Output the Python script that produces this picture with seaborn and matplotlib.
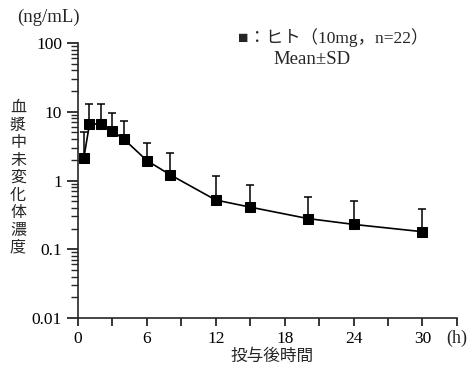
import numpy as np
import pandas as pd
import seaborn as sns
import matplotlib.pyplot as plt
from matplotlib.ticker import LogLocator, NullFormatter

# 投与後時間 (h) と 血漿中未変化体濃度 (ng/mL)
hours = [0.5, 1, 2, 3, 4, 6, 8, 12, 15, 20, 24, 30]
conc_mean = [2.1, 6.6, 6.7, 5.2, 4.0, 1.95, 1.22, 0.52, 0.41, 0.28, 0.23, 0.18]
conc_sd = [3.0, 6.2, 6.1, 4.4, 3.4, 1.6, 1.3, 0.64, 0.45, 0.30, 0.27, 0.20]
y_ticks = [0.01, 0.1, 1, 10, 100]
y_tick_labels = ['0.01', '0.1', '1', '10', '100']
x_ticks = [0, 6, 12, 18, 24, 30]

df = pd.DataFrame({'時間': hours, '濃度': conc_mean, 'SD': conc_sd})

sns.set_style('ticks')
plt.rcParams['font.family'] = ['Liberation Serif', 'Noto Sans CJK JP']
plt.rcParams['axes.linewidth'] = 1.2

fig = plt.figure(figsize=(4.71, 3.71), dpi=100)
ax = fig.add_axes([0.1656, 0.1429, 0.8044, 0.7411])

ax.errorbar(df['時間'], df['濃度'], yerr=[np.zeros(len(df)), df['SD']],
            fmt='none', ecolor='black', elinewidth=1.1, capsize=3, capthick=1.1)
sns.lineplot(data=df, x='時間', y='濃度', ax=ax, color='black', linewidth=1.2,
             marker='s', markersize=7, markeredgecolor='black', markerfacecolor='black')

ax.set_yscale('log')
ax.set_ylim(0.01, 100)
ax.set_xlim(0, 33)
ax.set_yticks(y_ticks)
ax.set_yticklabels(y_tick_labels)
ax.yaxis.set_minor_locator(LogLocator(base=10, subs=np.arange(2, 10), numticks=20))
ax.yaxis.set_minor_formatter(NullFormatter())
ax.set_xticks(np.arange(0, 34, 3), minor=True)
ax.set_xticks(x_ticks)
ax.tick_params(axis='y', which='major', length=8, width=1.1, labelsize=12.5, colors='black')
ax.tick_params(axis='y', which='minor', length=5, width=1.0)
ax.tick_params(axis='x', which='both', length=6, width=1.1, labelsize=12.5, colors='black')
sns.despine(ax=ax)
ax.set_xlabel('')
ax.set_ylabel('')

fig.text(17 / 471, 1 - 17 / 371, '(ng/mL)', fontsize=13.5, ha='left', va='center')
fig.text(18 / 471, 1 - 178 / 371, '\n'.join('血漿中未変化体濃度'), fontsize=11.5,
         ha='center', va='center', linespacing=1.12)
fig.text(272 / 471, 1 - 357 / 371, '投与後時間', fontsize=12, ha='center', va='center')
fig.text(446 / 471, 1 - 338 / 371, '(h)', fontsize=13, ha='left', va='center')
fig.text(238 / 471, 1 - 38 / 371, '■：ヒト（10mg，n=22）', fontsize=12.5, ha='left', va='center')
fig.text(273 / 471, 1 - 59 / 371, 'Mean±SD', fontsize=13.5, ha='left', va='center')

fig.savefig('out.png', dpi=100)
